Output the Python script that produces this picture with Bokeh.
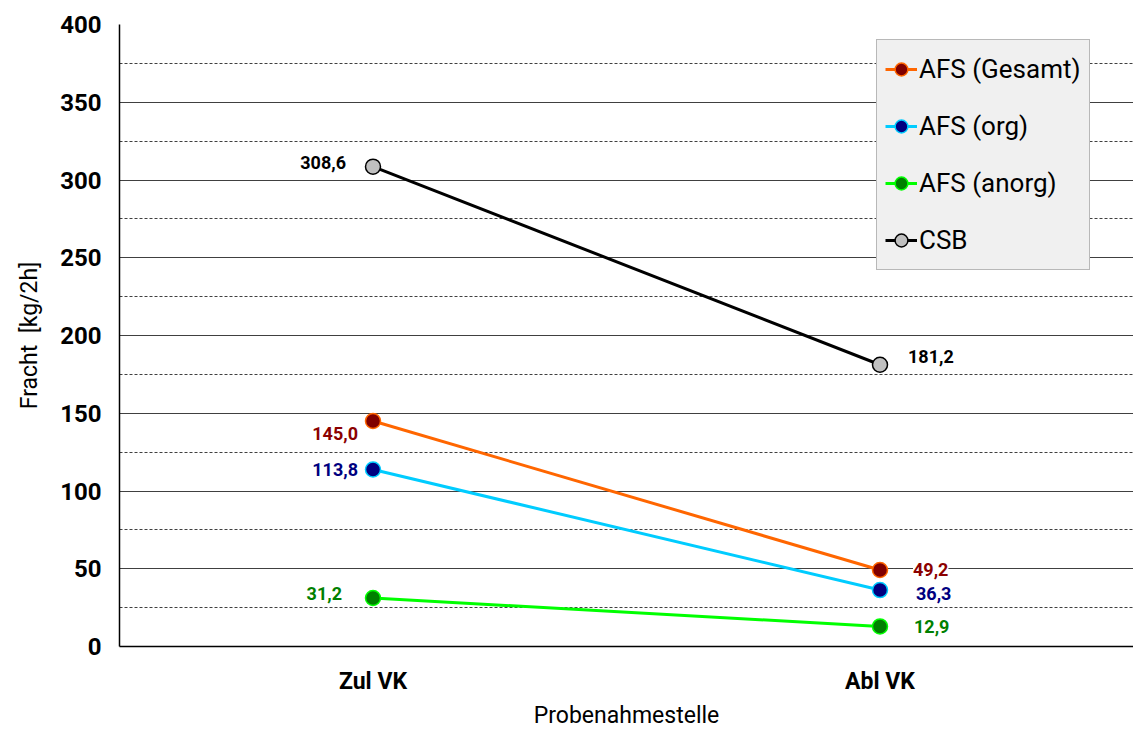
from bokeh.plotting import figure
from bokeh.models import FactorRange, Range1d, FixedTicker, LabelSet, ColumnDataSource, Legend, LegendItem
from bokeh.core.properties import value
from bokeh.embed import file_html
from bokeh.resources import INLINE

categories = ["Zul VK", "Abl VK"]
afs_gesamt = [145.0, 49.2]
afs_org = [113.8, 36.3]
afs_anorg = [31.2, 12.9]
csb = [308.6, 181.2]
y_ticks = [0, 50, 100, 150, 200, 250, 300, 350, 400]
y_minor = [25, 75, 125, 175, 225, 275, 325, 375]

FONT = "Roboto"

p = figure(width=1133, height=731, x_range=FactorRange(*categories), y_range=Range1d(0, 400),
           output_backend="svg", toolbar_location=None,
           min_border_left=119, min_border_right=0, min_border_top=24, min_border_bottom=85)
p.outline_line_color = None
p.background_fill_color = "white"
p.border_fill_color = "white"

# axes
p.yaxis.ticker = FixedTicker(ticks=y_ticks, minor_ticks=y_minor)
p.yaxis.major_tick_line_color = None
p.yaxis.minor_tick_line_color = None
p.yaxis.axis_line_color = "black"
p.yaxis.axis_line_width = 1.5
p.yaxis.major_label_text_font = FONT
p.yaxis.major_label_text_font_style = "bold"
p.yaxis.major_label_text_font_size = "24px"
p.yaxis.major_label_text_color = "black"
p.yaxis.major_label_standoff = 12
p.yaxis.axis_label = "Fracht\u00a0 [kg/2h]"
p.yaxis.axis_label_text_font = FONT
p.yaxis.axis_label_text_font_style = "normal"
p.yaxis.axis_label_text_font_size = "23px"
p.yaxis.axis_label_text_color = "black"
p.yaxis.axis_label_standoff = 14

p.xaxis.major_tick_line_color = None
p.xaxis.axis_line_color = "black"
p.xaxis.axis_line_width = 1.5
p.xaxis.major_label_text_font = FONT
p.xaxis.major_label_text_font_style = "bold"
p.xaxis.major_label_text_font_size = "23px"
p.xaxis.major_label_text_color = "black"
p.xaxis.major_label_standoff = 15
p.xaxis.axis_label = "Probenahmestelle"
p.xaxis.axis_label_text_font = FONT
p.xaxis.axis_label_text_font_style = "normal"
p.xaxis.axis_label_text_font_size = "23px"
p.xaxis.axis_label_text_color = "black"
p.xaxis.axis_label_standoff = 4

p.xgrid.grid_line_color = None
p.ygrid.ticker = FixedTicker(ticks=y_ticks, minor_ticks=y_minor)
p.ygrid.grid_line_color = "#404040"
p.ygrid.grid_line_width = 1
p.ygrid.minor_grid_line_color = "#404040"
p.ygrid.minor_grid_line_dash = "3 2"
p.ygrid.minor_grid_line_width = 1

series = [
    ("AFS (Gesamt)", afs_gesamt, "#FF6600", "#800000", "#FF6600", "#8B0000"),
    ("AFS (org)", afs_org, "#00CCFF", "#000080", "#00CCFF", "#000080"),
    ("AFS (anorg)", afs_anorg, "#00FF00", "#008000", "#00FF00", "#008000"),
    ("CSB", csb, "#000000", "#C0C0C0", "#000000", "#000000"),
]
# label offsets (pixels): (x_offset, y_offset, align) for each category
label_pos = {
    "AFS (Gesamt)": [(-15, -12, "right"), (33, 0, "left")],
    "AFS (org)": [(-15, 0, "right"), (36, -3, "left")],
    "AFS (anorg)": [(-31, 4, "right"), (34, 0, "left")],
    "CSB": [(-27, 4, "right"), (28, 8, "left")],
}

items = []
for name, vals, lc, fc, oc, tc in series:
    r1 = p.line(categories, vals, line_color=lc, line_width=3)
    r2 = p.scatter(categories, vals, size=15, fill_color=fc, line_color=oc, line_width=1.5)
    items.append(LegendItem(label=name, renderers=[r1, r2]))
    for cat, v, (dx, dy, al) in zip(categories, vals, label_pos[name]):
        src = ColumnDataSource(dict(x=[cat], y=[v], t=[f"{v:.1f}".replace(".", ",")]))
        p.add_layout(LabelSet(x="x", y="y", text="t", source=src, x_offset=dx, y_offset=dy,
                              text_align=al, text_baseline="middle",
                              text_font=value(FONT), text_font_style="bold",
                              text_font_size=value("18px"),
                              text_color=tc, background_fill_color="white",
                              background_fill_alpha=1.0))

legend = Legend(items=items, location=(757, 376))
legend.background_fill_color = "#F0F0F0"
legend.background_fill_alpha = 1.0
legend.border_line_color = "#808080"
legend.border_line_width = 1
legend.label_text_font = FONT
legend.label_text_font_size = "26px"
legend.label_text_color = "black"
legend.glyph_width = 32
legend.glyph_height = 42
legend.label_height = 42
legend.label_standoff = 2
legend.padding = 8
legend.spacing = 15
legend.margin = 0
p.add_layout(legend)

open("out.html", "w").write(file_html(p, INLINE))
